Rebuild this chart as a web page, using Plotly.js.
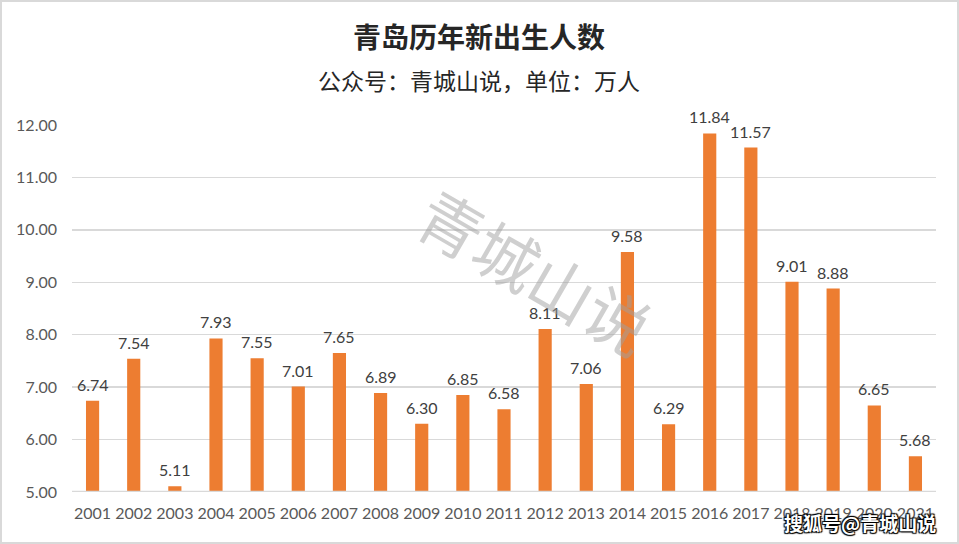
<!DOCTYPE html>
<html>
<head>
<meta charset="utf-8">
<script src="https://cdn.plot.ly/plotly-3.0.1.min.js"></script>
<style>
html,body{margin:0;padding:0;background:#fff;}
#wrap{position:relative;width:959px;height:544px;}
#chart{width:959px;height:544px;}
#frame{position:absolute;left:0;top:0;width:959px;height:544px;box-sizing:border-box;border:2px solid #d9d9d9;pointer-events:none;}
</style>
</head>
<body>
<div id="wrap"><div id="chart"></div><div id="frame"></div></div>
<script>
var years = ['2001','2002','2003','2004','2005','2006','2007','2008','2009','2010','2011','2012','2013','2014','2015','2016','2017','2018','2019','2020','2021'];
var births = [6.74,7.54,5.11,7.93,7.55,7.01,7.65,6.89,6.30,6.85,6.58,8.11,7.06,9.58,6.29,11.84,11.57,9.01,8.88,6.65,5.68];
var yTicks = [5,6,7,8,9,10,11,12];
var yTickText = ['5.00','6.00','7.00','8.00','9.00','10.00','11.00','12.00'];
var titleText = '青岛历年新出生人数';
var subtitleText = '公众号：青城山说，单位：万人';
var watermark = '青城山说';
var sourceMark = '搜狐号@青城山说';

var trace = {
  type: 'bar',
  x: years,
  y: births,
  marker: {color: '#ED7D31'},
  hoverinfo: 'x+y'
};

var annotations = years.map(function(yr, i){
  return {
    x: i, y: births[i], xref: 'x', yref: 'y',
    text: births[i].toFixed(2), showarrow: false,
    yanchor: 'bottom', yshift: 5,
    font: {family: 'Lato, "Liberation Sans", sans-serif', size: 16, color: '#404040'}
  };
});
annotations.push({
  xref: 'paper', yref: 'paper', x: 0.4716, y: 1.0, yshift: 89,
  text: '<b>' + titleText + '</b>', showarrow: false, yanchor: 'middle',
  font: {family: '"Noto Sans CJK SC", sans-serif', size: 28, color: '#262626'}
});
annotations.push({
  xref: 'paper', yref: 'paper', x: 0.4716, y: 1.0, yshift: 45,
  text: subtitleText, showarrow: false, yanchor: 'middle',
  font: {family: '"Noto Sans CJK SC", sans-serif', size: 23, color: '#262626'}
});
annotations.push({
  xref: 'paper', yref: 'paper', x: 0.537, y: 0.605,
  text: watermark, showarrow: false, textangle: 30,
  font: {family: '"Noto Sans CJK SC", sans-serif', size: 64, color: 'rgba(160,160,160,0.5)'}
});
annotations.push({
  xref: 'paper', yref: 'paper', x: 1.0, y: 0, xanchor: 'right', yanchor: 'middle', yshift: -30, xshift: 2,
  text: '<b>' + sourceMark + '</b>', showarrow: false,
  font: {family: '"Noto Sans CJK SC", sans-serif', size: 19, color: '#ffffff',
         shadow: '1px 1px 1px #000, -1px -1px 1px #000, 1px -1px 1px #000, -1px 1px 1px #000'}
});

var layout = {
  width: 959, height: 544,
  margin: {l: 72, r: 23, t: 125, b: 52},
  paper_bgcolor: '#ffffff', plot_bgcolor: '#ffffff',
  showlegend: false,
  bargap: 0.68,
  xaxis: {
    type: 'category', range: [-0.5, years.length - 0.5],
    showgrid: false, showline: false, zeroline: false, ticks: '',
    tickfont: {family: 'Lato, "Liberation Sans", sans-serif', size: 16, color: '#595959'},
    ticklabelstandoff: 10
  },
  yaxis: {
    range: [5, 12], tickmode: 'array',
    tickvals: yTicks, ticktext: yTickText,
    showgrid: true, gridcolor: '#d9d9d9', gridwidth: 1.5,
    zeroline: false, showline: false, ticks: '',
    tickfont: {family: 'Lato, "Liberation Sans", sans-serif', size: 16, color: '#595959'},
    ticklabelstandoff: 14
  },
  shapes: [{type: 'line', xref: 'paper', yref: 'y', x0: 0, x1: 1, y0: 5, y1: 5,
            line: {color: '#d9d9d9', width: 2.5}}],
  annotations: annotations
};

Plotly.newPlot('chart', [trace], layout, {displayModeBar: false, staticPlot: true});
</script>
</body>
</html>
